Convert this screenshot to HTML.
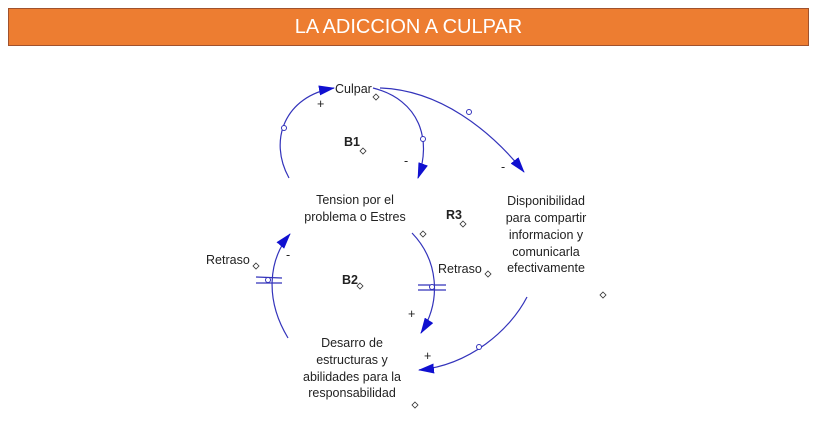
<!DOCTYPE html>
<html><head><meta charset="utf-8"><style>
body{margin:0;width:814px;height:422px;background:#fff;overflow:hidden;position:relative;font-family:"Liberation Sans",Arial,sans-serif}
#hdr{position:absolute;left:8px;top:8px;width:799px;height:36px;background:#ED7D31;border:1px solid #A0522D;color:#fff;font-size:20px;line-height:36px;text-align:center;font-family:"Liberation Sans Narrow","Liberation Sans",sans-serif}
svg{position:absolute;left:0;top:0}
text{font-family:"Liberation Sans",Arial,sans-serif;font-size:12.5px;fill:#222}
</style></head><body>
<div id="hdr">LA ADICCION A CULPAR</div>
<svg width="814" height="422">
<defs><marker id="a" viewBox="0 0 16 10" refX="15" refY="5" markerWidth="16" markerHeight="10" markerUnits="userSpaceOnUse" orient="auto"><path d="M0,0 L16,5 L0,10 z" fill="#1010d0"/></marker></defs>
<g fill="none" stroke="#3333bb" stroke-width="1.2">
<path d="M289,178 C268,140 285,96 334,88" marker-end="url(#a)"/>
<path d="M373,88 C420,100 432,140 418,178" marker-end="url(#a)"/>
<path d="M380,88 C440,90 490,130 524,172" marker-end="url(#a)"/>
<path d="M412,233 C438,260 442,300 421,333" marker-end="url(#a)"/>
<path d="M288,338 C265,300 268,260 290,234" marker-end="url(#a)"/>
<path d="M527,297 C510,330 470,365 419,370" marker-end="url(#a)"/>
<line x1="256" y1="277" x2="282" y2="278"/><line x1="256" y1="283" x2="282" y2="283"/>
<line x1="418" y1="285" x2="446" y2="285"/><line x1="418" y1="290" x2="446" y2="290"/>
</g>
<g fill="#fff" stroke="#3333bb" stroke-width="1">
<circle cx="284" cy="128" r="2.5"/><circle cx="423" cy="139" r="2.5"/><circle cx="469" cy="112" r="2.5"/>
<circle cx="268" cy="280" r="2.5"/><circle cx="432" cy="287" r="2.5"/><circle cx="479" cy="347" r="2.5"/>
</g>
<g fill="#fff" stroke="#333" stroke-width="0.8">
<path d="M376,94 l3,3 -3,3 -3,-3z"/><path d="M363,148 l3,3 -3,3 -3,-3z"/><path d="M423,231 l3,3 -3,3 -3,-3z"/>
<path d="M463,221 l3,3 -3,3 -3,-3z"/><path d="M256,263 l3,3 -3,3 -3,-3z"/><path d="M360,283 l3,3 -3,3 -3,-3z"/>
<path d="M488,271 l3,3 -3,3 -3,-3z"/><path d="M603,292 l3,3 -3,3 -3,-3z"/><path d="M415,402 l3,3 -3,3 -3,-3z"/>
</g>
<g font-size="14">
<text x="317" y="108" fill="#2222aa">+</text><text x="404" y="165" fill="#2222aa">-</text><text x="501" y="171" fill="#2222aa">-</text>
<text x="286" y="259" fill="#2222aa">-</text><text x="408" y="318" fill="#2222aa">+</text><text x="424" y="360" fill="#2222aa">+</text>
</g>
<text x="335" y="93">Culpar</text>
<text x="344" y="146" font-weight="bold">B1</text>
<text x="342" y="284" font-weight="bold">B2</text>
<text x="446" y="219" font-weight="bold">R3</text>
<text x="206" y="264">Retraso</text>
<text x="438" y="273">Retraso</text>
<g text-anchor="middle">
<text x="355" y="204">Tension por el</text><text x="355" y="221">problema o Estres</text>
<text x="546" y="205">Disponibilidad</text><text x="546" y="222">para compartir</text><text x="546" y="239">informacion y</text><text x="546" y="256">comunicarla</text><text x="546" y="272">efectivamente</text>
<text x="352" y="347">Desarro de</text><text x="352" y="364">estructuras y</text><text x="352" y="381">abilidades para la</text><text x="352" y="397">responsabilidad</text>
</g>
</svg>
</body></html>
